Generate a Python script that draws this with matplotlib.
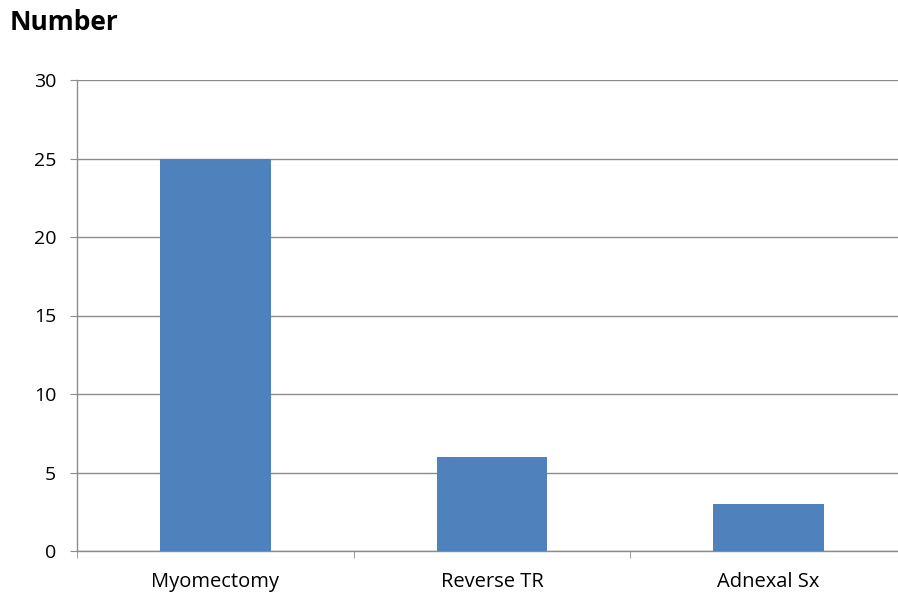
import matplotlib
matplotlib.use("Agg")
import matplotlib.pyplot as plt
import numpy as np

categories = ["Myomectomy", "Reverse TR", "Adnexal Sx"]
values = [25, 6, 3]
yticks = [0, 5, 10, 15, 20, 25, 30]

W, H = 898, 592
fig = plt.figure(figsize=(W/100, H/100), dpi=100)
left = 77 / W
right = 907 / W
bottom = (H - 551) / H
top = (H - 80) / H
ax = fig.add_axes([left, bottom, right - left, top - bottom])

x = np.arange(len(categories))
ax.bar(x, values, width=0.4, color="#4F81BD", zorder=3)
ax.set_xlim(-0.5, len(categories) - 0.5)
ax.set_ylim(0, 30)
ax.set_yticks(yticks)
ax.set_yticklabels([str(v) for v in yticks], fontsize=14, family="Open Sans")
ax.yaxis.grid(True, color="#8C8C8C", linewidth=1, zorder=0)
ax.tick_params(axis="y", length=5, color="#8C8C8C", pad=10)

ax.set_xticks(x)
ax.set_xticklabels(categories, fontsize=14.5, family="Open Sans")
ax.tick_params(axis="x", length=0, pad=15)
ax.set_xticks(np.arange(-0.5, len(categories)), minor=True)
ax.tick_params(axis="x", which="minor", length=5, color="#8C8C8C")

for s in ["top", "right"]:
    ax.spines[s].set_visible(False)
for s in ["left", "bottom"]:
    ax.spines[s].set_color("#8C8C8C")
    ax.spines[s].set_linewidth(1)

fig.text(10 / W, 1 - 22 / H, "Number", fontsize=19, fontweight="bold",
         family="Open Sans", ha="left", va="center")

fig.savefig("out.png", dpi=100)
